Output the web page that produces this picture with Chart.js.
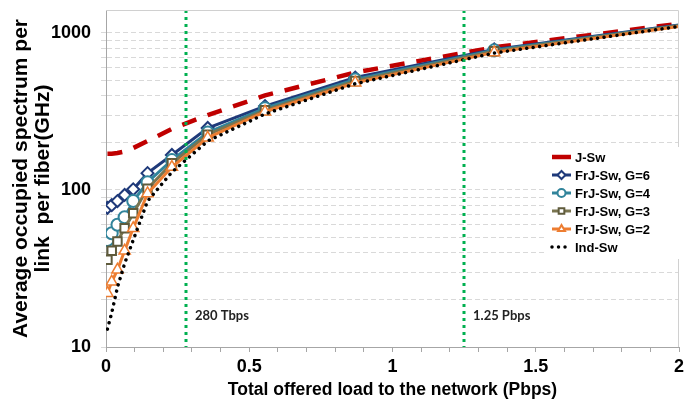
<!DOCTYPE html>
<html>
<head>
<meta charset="utf-8">
<script src="https://cdn.jsdelivr.net/npm/chart.js@4.4.1/dist/chart.umd.min.js"></script>
<style>
  body { margin: 0; background: #fff; }
  canvas { display: block; }
</style>
</head>
<body>
<canvas id="chart" width="687" height="405"></canvas>
<script>
// offered load (Pbps) at each simulated point
const loads = [0.005, 0.02, 0.04, 0.065, 0.095, 0.145, 0.23, 0.355, 0.555, 0.87, 1.355, 2.0]

// average occupied spectrum per link per fiber (GHz)
const jSw = [170, 170, 172, 176, 185, 205, 245, 300, 400, 560, 810, 1145]
const frjG6 = [77, 80, 85, 93, 101, 128, 167, 248, 342, 520, 785, 1125]
const frjG4 = [48, 53, 60, 67, 85, 112, 155, 232, 332, 505, 775, 1115]
const frjG3 = [36, 41, 47, 57, 71, 102, 148, 225, 322, 495, 765, 1110]
const frjG2 = [22, 26, 31, 41, 57, 95, 140, 215, 315, 482, 752, 1100]
const indSw = [13, 16.5, 24, 34, 48, 85, 130, 205, 305, 475, 745, 1100]

const seriesNames = ['J-Sw', 'FrJ-Sw, G=6', 'FrJ-Sw, G=4', 'FrJ-Sw, G=3', 'FrJ-Sw, G=2', 'Ind-Sw']

// axis labels
const xTickLabels = [0, 0.5, 1, 1.5, 2]
const yTickLabels = [10, 100, 1000]
const yDecades = [10, 100]

// reference loads marked with vertical lines
const markerLoads = [0.28, 1.25]
const markerLabels = ['280 Tbps', '1.25 Pbps']

const toPoints = (vals) => loads.map((x, i) => ({ x: x, y: vals[i] }))
const lastIdx = loads.length - 1
const hideLast = (r) => (c) => c.dataIndex === lastIdx ? 0 : r

const tickFont = { family: 'Liberation Sans, Arial, sans-serif', size: 18, weight: 'bold' }

const datasets = [
    {
        label: seriesNames[0], data: toPoints(jSw),
        borderColor: '#c00000', borderWidth: 4.5, borderDash: [15, 12],
        pointRadius: 0, order: 5
    },
    {
        label: seriesNames[1], data: toPoints(frjG6),
        borderColor: '#1f3a7a', borderWidth: 3,
        pointStyle: 'rectRot', pointRadius: hideLast(6), pointBorderWidth: 2,
        pointBackgroundColor: '#fff', pointBorderColor: '#1f3a7a', order: 4
    },
    {
        label: seriesNames[2], data: toPoints(frjG4),
        borderColor: '#31849b', borderWidth: 3,
        pointStyle: 'circle', pointRadius: hideLast(6), pointBorderWidth: 2,
        pointBackgroundColor: '#fff', pointBorderColor: '#31849b', order: 3
    },
    {
        label: seriesNames[3], data: toPoints(frjG3),
        borderColor: '#7a7550', borderWidth: 3,
        pointStyle: 'rect', pointRadius: hideLast(6), pointBorderWidth: 2,
        pointBackgroundColor: '#fff', pointBorderColor: '#5f5b3c', order: 2
    },
    {
        label: seriesNames[4], data: toPoints(frjG2),
        borderColor: '#ed7d31', borderWidth: 3,
        pointStyle: 'triangle', pointRadius: hideLast(6.5), pointBorderWidth: 1.5,
        pointBackgroundColor: '#fff', pointBorderColor: '#ed7d31', order: 1
    },
    {
        label: seriesNames[5], data: toPoints(indSw),
        borderColor: '#000', borderWidth: 3.5, borderDash: [0.01, 6.5], borderCapStyle: 'round',
        pointRadius: 0, order: 0
    }
]

// green dotted lines at the two reference loads
const markerLines = {
    id: 'markerLines',
    afterDatasetsDraw(chart) {
        const ctx = chart.ctx
        const area = chart.chartArea
        const xs = chart.scales.x
        ctx.save()
        markerLoads.forEach((v, i) => {
            const px = Math.round(xs.getPixelForValue(v))
            ctx.strokeStyle = '#00b050'
            ctx.lineWidth = 3
            ctx.setLineDash([3, 4])
            ctx.beginPath()
            ctx.moveTo(px, area.top)
            ctx.lineTo(px, area.bottom)
            ctx.stroke()
            ctx.setLineDash([])
            ctx.fillStyle = '#222'
            ctx.font = 'bold 13px Lato, sans-serif'
            ctx.textBaseline = 'middle'
            ctx.fillText(markerLabels[i], px + 9, area.bottom - 31)
        })
        ctx.restore()
    }
}

// frame round the plot area + legend box inside it
const frameAndLegend = {
    id: 'frameAndLegend',
    afterDraw(chart) {
        const ctx = chart.ctx
        const a = chart.chartArea
        ctx.save()
        ctx.strokeStyle = '#d0d0d0'
        ctx.lineWidth = 1
        ctx.beginPath()
        ctx.moveTo(a.left, a.top + 0.5)
        ctx.lineTo(a.right - 0.5, a.top + 0.5)
        ctx.lineTo(a.right - 0.5, a.bottom)
        ctx.stroke()

        ctx.fillStyle = '#fff'
        ctx.fillRect(546, 147, 136, 112)

        chart.data.datasets.forEach((ds, i) => {
            const y = 157 + i * 18
            ctx.save()
            ctx.strokeStyle = ds.borderColor
            ctx.lineWidth = ds.borderWidth
            ctx.lineCap = ds.borderCapStyle || 'butt'
            ctx.setLineDash(ds.borderDash ? (i === 0 ? [] : ds.borderDash) : [])
            ctx.beginPath()
            ctx.moveTo(552, y)
            ctx.lineTo(571, y)
            ctx.stroke()
            ctx.setLineDash([])
            if (ds.pointStyle) {
                ctx.fillStyle = '#fff'
                ctx.strokeStyle = ds.pointBorderColor
                ctx.lineWidth = 2
                Chart.helpers.drawPoint(ctx, { pointStyle: ds.pointStyle, radius: 4, rotation: 0, borderWidth: 2 }, 561.5, y)
            }
            ctx.restore()
            ctx.fillStyle = '#000'
            ctx.font = 'bold 13px Liberation Sans, Arial, sans-serif'
            ctx.textBaseline = 'middle'
            ctx.fillText(ds.label, 575, y + 1)
        })
        ctx.restore()
    }
}

new Chart(document.getElementById('chart'), {
    type: 'line',
    data: { datasets: datasets },
    options: {
        responsive: false,
        animation: false,
        layout: { padding: { top: 10, right: 3, left: 0, bottom: 0 } },
        plugins: { legend: { display: false }, tooltip: { enabled: false } },
        scales: {
            x: {
                type: 'linear', min: 0, max: 2,
                afterFit: (s) => { s.height = 58; s.paddingLeft = 0; s.paddingRight = 0 },
                ticks: {
                    stepSize: 0.1, autoSkip: false, maxRotation: 0,
                    color: '#000', font: tickFont, padding: 4,
                    callback: (v) => {
                        const t = xTickLabels.find(t => Math.abs(t - v) < 1e-6)
                        return t === undefined ? '' : String(t)
                    }
                },
                grid: { drawOnChartArea: false, tickLength: 5, color: '#a6a6a6' },
                border: { color: '#a6a6a6' },
                title: {
                    display: true, text: 'Total offered load to the network (Pbps)',
                    color: '#000', font: { family: 'Liberation Sans, Arial, sans-serif', size: 17.5, weight: 'bold' },
                    padding: { top: 0, bottom: 4 }
                }
            },
            y: {
                type: 'logarithmic', min: 10, max: 1400,
                afterFit: (s) => { s.width = 106; s.paddingTop = 0; s.paddingBottom = 0 },
                afterBuildTicks: (s) => {
                    const ticks = []
                    yDecades.forEach(d => {
                        for (let k = 1; k <= 9; k++) ticks.push({ value: k * d })
                    })
                    ticks.push({ value: yTickLabels[yTickLabels.length - 1] })
                    s.ticks = ticks
                },
                ticks: {
                    autoSkip: false, color: '#000', font: tickFont, padding: 10,
                    callback: (v) => yTickLabels.includes(v) ? String(v) : ''
                },
                grid: { color: '#d9d9d9', tickLength: 5, lineWidth: 1 },
                border: { color: '#a6a6a6', dash: [5, 3] },
                title: {
                    display: true, text: ['Average occupied spectrum per', 'link  per fiber(GHz)'],
                    color: '#000', font: { family: 'Liberation Sans, Arial, sans-serif', size: 21, weight: 'bold', lineHeight: 1.05 },
                    padding: { top: 10, bottom: 0 }
                }
            }
        }
    },
    plugins: [markerLines, frameAndLegend]
});
</script>
</body>
</html>
